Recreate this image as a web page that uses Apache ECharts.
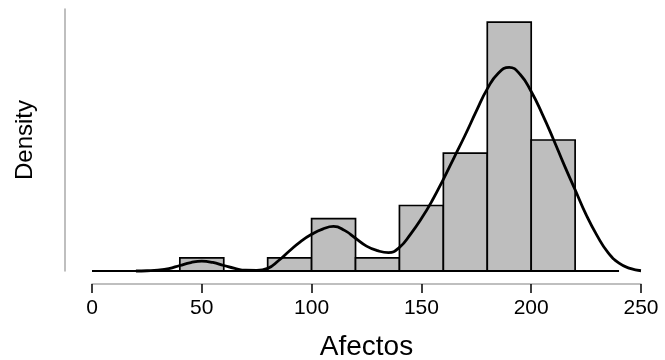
<!DOCTYPE html>
<html>
<head>
<meta charset="utf-8">
<script src="https://cdn.jsdelivr.net/npm/echarts@6/dist/echarts.min.js"></script>
<style>
html,body{margin:0;padding:0;background:#fff;}
#chart{width:665px;height:360px;}
</style>
</head>
<body>
<div id="chart"></div>
<script>
// Histogram bins (Afectos) and density values
var binStarts = [40, 60, 80, 100, 120, 140, 160, 180, 200];
var binWidth = 20;
var binDensity = [0.001, 0, 0.001, 0.004, 0.001, 0.005, 0.009, 0.019, 0.010];

// Kernel density curve
var curveX = [20, 25, 30, 35, 40, 45, 50, 55, 60, 65, 70, 75, 80, 85, 90, 95, 100, 105, 110, 115, 120, 125, 130, 135, 140, 145, 150, 155, 160, 165, 170, 175, 180, 185, 190, 195, 200, 205, 210, 215, 220, 225, 230, 235, 240, 245, 250];
var curveY = [0, 0.00002, 0.00006, 0.00018, 0.00042, 0.00064, 0.00075, 0.00065, 0.00042, 0.0002, 0.00006, 0.00005, 0.0002, 0.0008, 0.00155, 0.00225, 0.0028, 0.0032, 0.0034, 0.0031, 0.0025, 0.0019, 0.00155, 0.0014, 0.0018, 0.0028, 0.0040, 0.0054, 0.0070, 0.0087, 0.0104, 0.0122, 0.0139, 0.0151, 0.01555, 0.0150, 0.0137, 0.0120, 0.0101, 0.0081, 0.0062, 0.0043, 0.0027, 0.00140, 0.0006, 0.0002, 0.00002];

// Baseline segment
var baselineX = [0, 240];

// Axis
var xTicks = [0, 50, 100, 150, 200, 250];
var xTitle = 'Afectos';
var yTitle = 'Density';

var barData = binStarts.map(function (s, i) { return [s, s + binWidth, binDensity[i]]; });
var curveData = curveX.map(function (x, i) { return [x, curveY[i]]; });
var baseData = baselineX.map(function (x) { return [x, 0]; });

var chart = echarts.init(document.getElementById('chart'), null, {renderer: 'canvas'});
chart.setOption({
  animation: false,
  backgroundColor: '#ffffff',
  grid: {left: 92, right: 24, top: 9, bottom: 89, containLabel: false, outerBoundsMode: 'none'},
  xAxis: {
    type: 'value',
    min: xTicks[0],
    max: xTicks[xTicks.length - 1],
    interval: 50,
    offset: 13,
    splitLine: {show: false},
    axisLine: {show: true, onZero: false, lineStyle: {color: '#aaaaaa', width: 1.5}},
    axisTick: {show: true, length: 9, lineStyle: {color: '#000', width: 1.5}},
    axisLabel: {fontSize: 21, color: '#000', margin: 14, fontFamily: 'Liberation Sans'},
    name: xTitle,
    nameLocation: 'middle',
    nameGap: 49,
    nameTextStyle: {fontSize: 28, color: '#000', fontFamily: 'Liberation Sans'}
  },
  yAxis: {
    type: 'value',
    min: 0,
    max: 0.02,
    offset: 27,
    splitLine: {show: false},
    axisLine: {show: true, onZero: false, lineStyle: {color: '#aaaaaa', width: 1.5}},
    axisTick: {show: false},
    axisLabel: {show: false},
    name: yTitle,
    nameLocation: 'middle',
    nameGap: 28,
    nameTextStyle: {fontSize: 24, color: '#000', fontFamily: 'Liberation Sans'}
  },
  series: [
    {
      type: 'custom',
      data: barData,
      renderItem: function (params, api) {
        var p0 = api.coord([api.value(0), api.value(2)]);
        var p1 = api.coord([api.value(1), 0]);
        if (api.value(2) <= 0) return null;
        return {
          type: 'rect',
          shape: {x: p0[0], y: p0[1], width: p1[0] - p0[0], height: p1[1] - p0[1]},
          style: {fill: '#bebebe', stroke: '#000', lineWidth: 1.7}
        };
      },
      z: 2
    },
    {
      type: 'line',
      data: baseData,
      symbol: 'none',
      lineStyle: {color: '#000', width: 2},
      z: 3
    },
    {
      type: 'line',
      data: curveData,
      smooth: 0.5,
      symbol: 'none',
      lineStyle: {color: '#000', width: 2.8},
      clip: false,
      z: 4
    }
  ]
});
</script>
</body>
</html>
